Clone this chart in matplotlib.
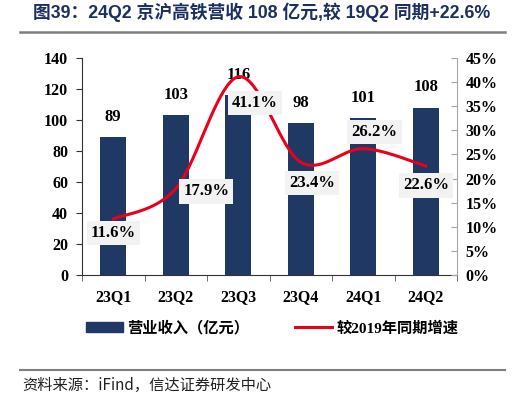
import numpy as np
import matplotlib
matplotlib.use("Agg")
import matplotlib.pyplot as plt
from matplotlib.patches import Patch
from matplotlib.lines import Line2D

categories = ["23Q1", "23Q2", "23Q3", "23Q4", "24Q1", "24Q2"]
revenue = [89, 103, 116, 98, 101, 108]
growth = [11.6, 17.9, 41.1, 23.4, 26.2, 22.6]
left_ticks = [0, 20, 40, 60, 80, 100, 120, 140]
right_ticks = [0, 5, 10, 15, 20, 25, 30, 35, 40, 45]

NAVY = "#203864"
RED = "#e8001c"
SERIF = ["Liberation Serif", "Noto Sans CJK SC"]
CJK = ["Noto Sans CJK SC", "Liberation Sans"]

fig = plt.figure(figsize=(5.23, 3.99), dpi=100)
ax = fig.add_axes([82/523, 1-275/399, 375/523, 217/399])
x = np.arange(len(categories))
ax.bar(x, revenue, width=0.42, color=NAVY, zorder=2)
ax.set_xlim(-0.5, len(categories)-0.5)
ax.set_ylim(0, 140)
ax.set_yticks(left_ticks)
ax.set_yticklabels([str(v) for v in left_ticks], fontfamily=SERIF, fontweight="bold", fontsize=11.5)
ax.set_xticks(x)
ax.set_xticklabels(categories, fontfamily=SERIF, fontweight="bold", fontsize=11.5)
ax.tick_params(axis="x", length=0, pad=10)
ax.set_xticks(np.arange(-0.5, len(categories), 1), minor=True)
ax.tick_params(axis="x", which="minor", length=4, direction="out", color="#555555")
ax.tick_params(axis="y", length=4, direction="out", color="#333333", pad=6)
for s in ["top", "right"]:
    ax.spines[s].set_visible(False)
ax.spines["left"].set_color("#333333")
ax.spines["bottom"].set_color("#333333")
for xi, v in zip(x, revenue):
    ax.annotate(str(v), (xi, v), xytext=(0, 9), textcoords="offset points",
                ha="center", va="bottom", fontfamily=SERIF, fontweight="bold", fontsize=12)

ax2 = ax.twinx()
ax2.set_ylim(0, 45)
ax2.set_yticks(right_ticks)
ax2.set_yticklabels([f"{v}%" for v in right_ticks], fontfamily=SERIF, fontweight="bold", fontsize=11.5)
ax2.tick_params(axis="y", length=4, direction="in", color="#a6a6a6", pad=6)
for s in ["top", "left", "bottom"]:
    ax2.spines[s].set_visible(False)
ax2.spines["right"].set_color("#a6a6a6")

# Catmull-Rom smoothing (Excel-like) in pixel-scaled space
sx, sy = 62.5, 217/45
P = np.column_stack([x*sx, np.array(growth)*sy])
P = np.vstack([P[0], P, P[-1]])
pts = []
for i in range(1, len(P)-2):
    p0, p1, p2, p3 = P[i-1], P[i], P[i+1], P[i+2]
    c1 = p1 + (p2 - p0)/6
    c2 = p2 - (p3 - p1)/6
    t = np.linspace(0, 1, 40)[:, None]
    seg = (1-t)**3*p1 + 3*(1-t)**2*t*c1 + 3*(1-t)*t**2*c2 + t**3*p2
    pts.append(seg)
pts = np.vstack(pts)
ax2.plot(pts[:, 0]/sx, pts[:, 1]/sy, color=RED, lw=2.2, zorder=3)

# label offsets in points (dx, dy)
offs = [(0, -10), (22, -2), (12, -19), (8, -15), (8, 12), (0, -14)]
for xi, g, (dx, dy) in zip(x, growth, offs):
    ax2.annotate(f"{g}%", (xi, g), xytext=(dx, dy), textcoords="offset points",
                 ha="center", va="center", fontfamily=SERIF, fontweight="bold", fontsize=12,
                 bbox=dict(boxstyle="square,pad=0.25", fc="#f2f2f2", ec="none"), zorder=5)

# title
fig.text(262/523, 1-12/399, "图39：24Q2 京沪高铁营收 108 亿元,较 19Q2 同期+22.6%",
         ha="center", va="center", fontsize=12.8, fontweight="bold", color="#1c3060",
         fontfamily=["Liberation Sans", "Noto Sans CJK SC"])
fig.add_artist(Line2D([20/523, 505/523], [1-32/399, 1-32/399], color="#7f7f7f", lw=1.8))
fig.add_artist(Line2D([20/523, 505/523], [1-370/399, 1-370/399], color="#7f7f7f", lw=1.5))
fig.text(22/523, 1-385/399, "资料来源：iFind，信达证券研发中心", ha="left", va="center",
         fontsize=11, style="italic", fontfamily=CJK, color="#222222")

handles = [Patch(color=NAVY), Line2D([0], [0], color=RED, lw=2.2)]
leg = fig.legend(handles, ["营业收入（亿元）", "较2019年同期增速"], loc="center",
                 bbox_to_anchor=(272/523, 1-328/399), ncol=2, frameon=False,
                 prop={"family": ["Liberation Serif", "Noto Sans CJK SC"], "weight": "bold", "size": 11},
                 handlelength=2.4, handleheight=0.6, columnspacing=3.0, handletextpad=0.3)

fig.savefig("out.png", dpi=100)
